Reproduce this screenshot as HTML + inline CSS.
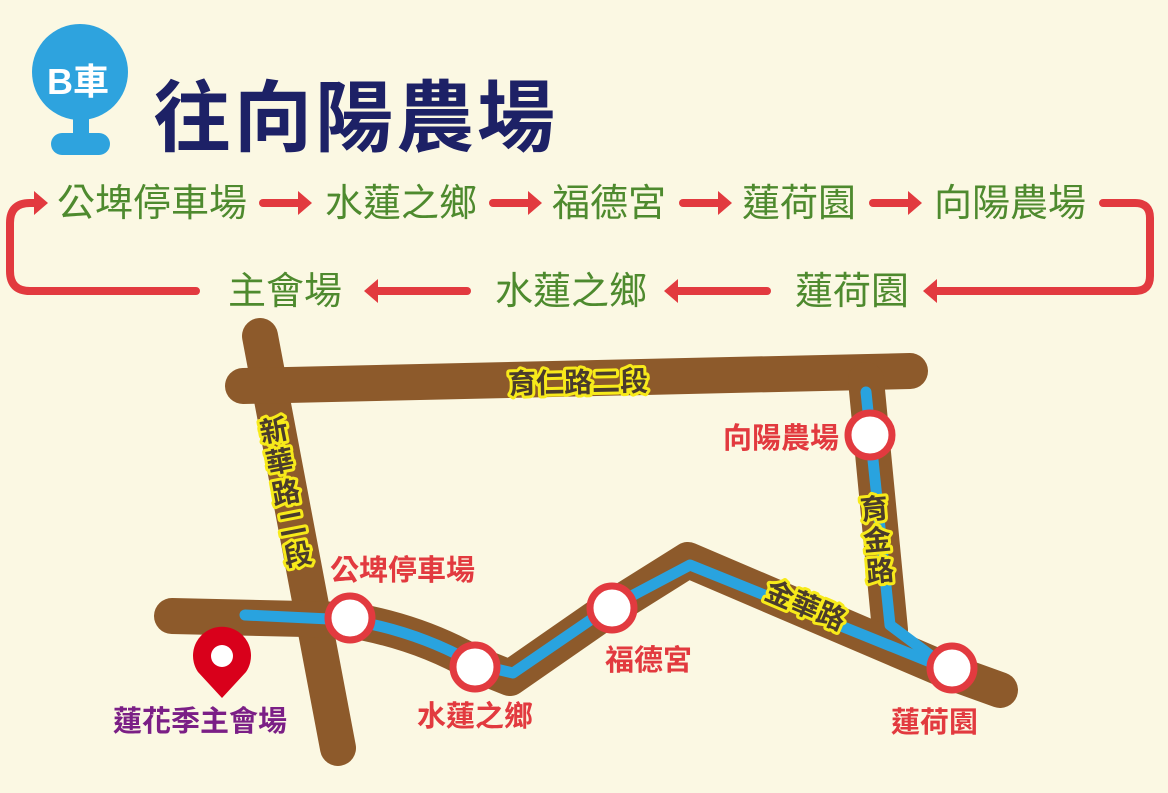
<!DOCTYPE html>
<html><head><meta charset="utf-8"><style>
html,body{margin:0;padding:0;background:#fbf8e3;}
svg{display:block;}
text{font-family:"Liberation Sans","Noto Sans CJK TC",sans-serif;font-weight:bold;}
.g{fill:#4e8a2e;font-size:38px;font-weight:normal;}
.r{fill:#e23a3f;font-size:29px;}
.y{fill:#4a3b2c;stroke:#f7ea1a;stroke-width:6px;paint-order:stroke;stroke-linejoin:round;font-size:28px;}
</style></head><body>
<svg width="1168" height="793" viewBox="0 0 1168 793" xmlns="http://www.w3.org/2000/svg">
<rect width="1168" height="793" fill="#fbf8e3"/>
<!-- B bubble -->
<circle cx="80" cy="72" r="48" fill="#2ea3de"/>
<rect x="73" y="110" width="16" height="32" fill="#2ea3de"/>
<rect x="51" y="133" width="59" height="22" rx="11" fill="#2ea3de"/>
<text x="78" y="94" font-size="36" fill="#fff" text-anchor="middle">B車</text>
<text x="153" y="145" font-size="78" fill="#1d2166" letter-spacing="3">往向陽農場</text>

<!-- route summary -->
<g stroke="#e23a3f" stroke-width="8" fill="none" stroke-linecap="round" stroke-linejoin="round">
<path d="M196 291 H30 Q10 291 10 271 V223 Q10 203 30 203 H40"/>
<path d="M1103 203 H1135 Q1150 203 1150 218 V276 Q1150 291 1135 291 H932"/>
<line x1="263" y1="203" x2="305" y2="203"/>
<line x1="493" y1="203" x2="535" y2="203"/>
<line x1="683" y1="203" x2="725" y2="203"/>
<line x1="873" y1="203" x2="915" y2="203"/>
<line x1="467" y1="291" x2="372" y2="291"/>
<line x1="767" y1="291" x2="672" y2="291"/>
</g>
<g fill="#e23a3f">
<path d="M48 203 l-14 -12 v24z"/>
<path d="M312 203 l-14 -12 v24z"/>
<path d="M542 203 l-14 -12 v24z"/>
<path d="M732 203 l-14 -12 v24z"/>
<path d="M922 203 l-14 -12 v24z"/>
<path d="M364 291 l14 -12 v24z"/>
<path d="M664 291 l14 -12 v24z"/>
<path d="M923 291 l14 -12 v24z"/>
</g>
<text class="g" x="57" y="216">公埤停車場</text>
<text class="g" x="325" y="216">水蓮之鄉</text>
<text class="g" x="552" y="216">福德宮</text>
<text class="g" x="742" y="216">蓮荷園</text>
<text class="g" x="934" y="216">向陽農場</text>
<text class="g" x="228" y="304">主會場</text>
<text class="g" x="495" y="304">水蓮之鄉</text>
<text class="g" x="795" y="304">蓮荷園</text>

<!-- roads -->
<g stroke="#8d5a2b" stroke-width="36" fill="none" stroke-linecap="round" stroke-linejoin="round">
<line x1="260" y1="336" x2="338" y2="748"/>
<line x1="243" y1="386" x2="910" y2="371"/>
<line x1="866" y1="380" x2="890" y2="630"/>
<path d="M172 616 L350 620 Q420 632 475 664 L510 678 L605 612 L688 560 L950 672 L1000 690"/>
</g>
<g stroke="#29a3df" stroke-width="11" fill="none" stroke-linecap="round" stroke-linejoin="round">
<path d="M245 615 L350 620 Q420 632 475 664 L513 673 L605 610 L690 565 L950 670"/>
<path d="M866 392 L890 625 L950 670"/>
</g>
<!-- stations -->
<g fill="#fff" stroke="#e23a3f" stroke-width="7">
<circle cx="350" cy="618" r="22"/>
<circle cx="475" cy="667" r="22"/>
<circle cx="612" cy="608" r="22"/>
<circle cx="870" cy="435" r="22"/>
<circle cx="952" cy="668" r="22"/>
</g>
<text class="r" x="330" y="580">公埤停車場</text>
<text class="r" x="417" y="726">水蓮之鄉</text>
<text class="r" x="605" y="670">福德宮</text>
<text class="r" x="723" y="448">向陽農場</text>
<text class="r" x="891" y="732">蓮荷園</text>

<!-- road labels -->
<text class="y" x="508" y="392" transform="rotate(-1.3 587 380)">育仁路二段</text>
<text class="y" transform="translate(262 443) rotate(-11)">新</text>
<text class="y" transform="translate(268 474) rotate(-11)">華</text>
<text class="y" transform="translate(274 505) rotate(-11)">路</text>
<text class="y" transform="translate(280 536) rotate(-11)">二</text>
<text class="y" transform="translate(286 567) rotate(-11)">段</text>
<text class="y" transform="translate(861 520) rotate(-5)">育</text>
<text class="y" transform="translate(864 551) rotate(-5)">金</text>
<text class="y" transform="translate(867 582) rotate(-5)">路</text>
<text class="y" transform="translate(763 598) rotate(23)">金華路</text>

<!-- pin -->
<path d="M222 698 L198 672 A29 29 0 1 1 246 672 Z" fill="#d9001b"/>
<circle cx="222" cy="656" r="11" fill="#fff"/>
<text x="113" y="731" font-size="29" fill="#7b1f86">蓮花季主會場</text>
</svg>
</body></html>
